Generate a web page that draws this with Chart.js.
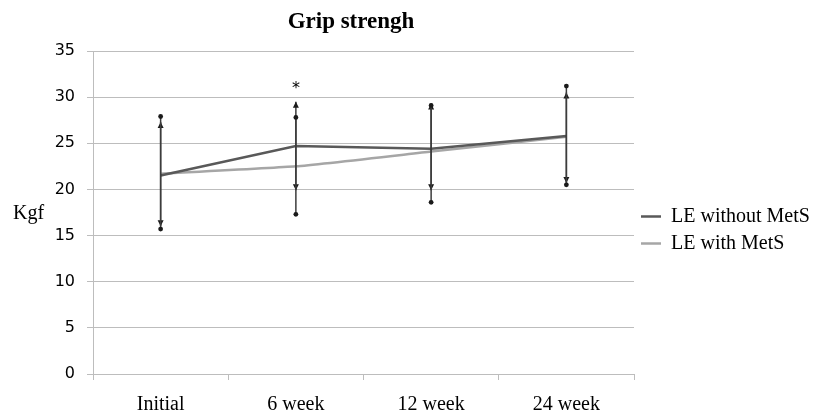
<!DOCTYPE html>
<html>
<head>
<meta charset="utf-8">
<script src="https://cdn.jsdelivr.net/npm/chart.js@4/dist/chart.umd.min.js"></script>
<style>
html, body { margin: 0; padding: 0; background: #ffffff; }
#wrap { width: 813px; height: 414px; position: relative; }
</style>
</head>
<body>
<div id="wrap"><canvas id="chart"></canvas></div>
<script>
// ---- data ----
const categories = ['Initial', '6 week', '12 week', '24 week'];
const seriesNames = ['LE without MetS', 'LE with MetS'];
const withoutMetS = [21.5, 24.7, 24.4, 25.8];
const withMetS    = [21.7, 22.5, 24.1, 25.7];
// error bar ends (upper / lower)
const withoutHi = [27.3, 29.5, 29.3, 30.5];
const withoutLo = [16.0, 19.9, 19.9, 20.7];
const withHi    = [27.9, 27.8, 29.1, 31.2];
const withLo    = [15.7, 17.3, 18.6, 20.5];
// significance marks per category
const marks = ['', '*', '', ''];
const yMin = 0, yMax = 35, yStep = 5;
const chartTitle = 'Grip strengh';
const yLabel = 'Kgf';

const SERIF = '"Liberation Serif", "Times New Roman", serif';
const SANS = '"DejaVu Sans", Verdana, sans-serif';
const GRID = '#bdbdbd';

const errorBars = {
  id: 'errorBars',
  afterDatasetsDraw(chart) {
    const ctx = chart.ctx, xs = chart.scales.x, ys = chart.scales.y;
    const sets = [
      { hi: withoutHi, lo: withoutLo, cap: 'arrow' },
      { hi: withHi, lo: withLo, cap: 'dot' }
    ];
    ctx.save();
    ctx.strokeStyle = '#3c3c3c';
    ctx.fillStyle = '#1a1a1a';
    ctx.lineWidth = 1.5;
    sets.forEach(s => {
      s.hi.forEach((h, i) => {
        const px = xs.getPixelForValue(i);
        const top = ys.getPixelForValue(h);
        const bot = ys.getPixelForValue(s.lo[i]);
        ctx.beginPath();
        ctx.moveTo(px, top);
        ctx.lineTo(px, bot);
        ctx.stroke();
        if (s.cap === 'arrow') {
          ctx.beginPath();
          ctx.moveTo(px, top); ctx.lineTo(px - 3, top + 6); ctx.lineTo(px + 3, top + 6); ctx.closePath();
          ctx.fill();
          ctx.beginPath();
          ctx.moveTo(px, bot); ctx.lineTo(px - 3, bot - 6); ctx.lineTo(px + 3, bot - 6); ctx.closePath();
          ctx.fill();
        } else {
          ctx.beginPath(); ctx.arc(px, top, 2.4, 0, Math.PI * 2); ctx.fill();
          ctx.beginPath(); ctx.arc(px, bot, 2.4, 0, Math.PI * 2); ctx.fill();
        }
      });
    });
    // significance marks
    ctx.font = '16px ' + SANS;
    ctx.textAlign = 'center';
    ctx.textBaseline = 'middle';
    ctx.fillStyle = '#000';
    marks.forEach((m, i) => {
      if (!m) return;
      const top = Math.max(withoutHi[i], withHi[i]);
      ctx.fillText(m, xs.getPixelForValue(i), ys.getPixelForValue(top) - 13);
    });
    ctx.restore();
  }
};

const yAxisLabel = {
  id: 'yAxisLabel',
  afterDraw(chart) {
    const ctx = chart.ctx, a = chart.chartArea;
    ctx.save();
    ctx.font = '20px ' + SERIF;
    ctx.fillStyle = '#000';
    ctx.textAlign = 'left';
    ctx.textBaseline = 'middle';
    ctx.fillText(yLabel, 13, (a.top + a.bottom) / 2 + 1);
    ctx.restore();
  }
};

const LEGEND_SHIFT_Y = 23;
const TITLE_SHIFT_X = -111;
const layoutTweak = {
  id: 'layoutTweak',
  afterLayout(chart) {
    const lg = chart.legend;
    if (lg) { lg.top += LEGEND_SHIFT_Y; lg.bottom += LEGEND_SHIFT_Y; }
    const t = chart.titleBlock;
    if (t) { t.left += TITLE_SHIFT_X; }
  }
};

new Chart(document.getElementById('chart'), {
  type: 'line',
  data: {
    labels: categories,
    datasets: [
      {
        label: seriesNames[0],
        data: withoutMetS,
        borderColor: '#595959',
        backgroundColor: '#595959',
        borderWidth: 2.5,
        pointRadius: 0,
        tension: 0,
        fill: false
      },
      {
        label: seriesNames[1],
        data: withMetS,
        borderColor: '#a6a6a6',
        backgroundColor: '#a6a6a6',
        borderWidth: 2.5,
        pointRadius: 0,
        tension: 0.15,
        fill: false
      }
    ]
  },
  options: {
    responsive: true,
    maintainAspectRatio: false,
    animation: false,
    devicePixelRatio: 1,
    layout: { padding: 0 },
    scales: {
      x: {
        offset: true,
        grid: { offset: true, drawOnChartArea: false, drawTicks: true, tickLength: 6, color: GRID },
        border: { display: true, color: GRID, width: 1 },
        ticks: { color: '#000', font: { family: SERIF, size: 20 }, padding: 13, maxRotation: 0, autoSkip: false },
        afterFit(scale) { scale.height = 40; }
      },
      y: {
        min: yMin,
        max: yMax,
        grid: { color: GRID, drawTicks: true, tickLength: 6 },
        border: { display: true, color: GRID, width: 1 },
        ticks: { stepSize: yStep, color: '#000', font: { family: SANS, size: 16 }, padding: 12 },
        afterFit(scale) { scale.width = 93; }
      }
    },
    plugins: {
      title: {
        display: true,
        text: chartTitle,
        color: '#000',
        font: { family: SERIF, size: 23, weight: 'bold' },
        padding: { top: 8, bottom: 15.4 }
      },
      legend: {
        position: 'right',
        align: 'center',
        maxWidth: 179,
        labels: {
          color: '#000',
          font: { family: SERIF, size: 20 },
          boxWidth: 20,
          boxHeight: 0,
          padding: 7
        }
      },
      tooltip: { enabled: false }
    }
  },
  plugins: [errorBars, yAxisLabel, layoutTweak]
});
</script>
</body>
</html>
